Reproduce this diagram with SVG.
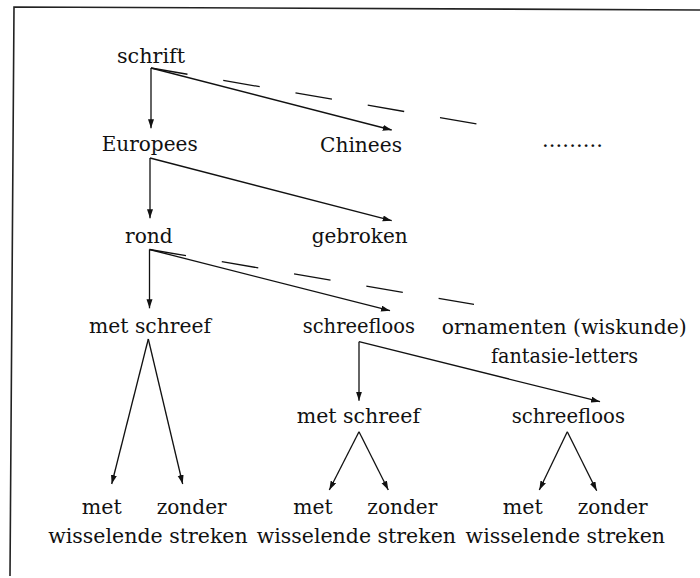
<svg xmlns="http://www.w3.org/2000/svg" width="700" height="578" viewBox="0 0 700 578">
<style>
.t text{font-family:"DejaVu Serif","Liberation Serif",serif;font-size:21px;fill:#111}
.c{fill:none;stroke:#111;stroke-width:1.3}
.d{fill:none;stroke:#111;stroke-width:1.3;stroke-dasharray:37 36.3}
.f{fill:none;stroke:#222;stroke-width:1.6}
</style>
<defs>
<marker id="ah" markerUnits="userSpaceOnUse" markerWidth="10" markerHeight="7" refX="9" refY="3" orient="auto">
<path d="M0,0 L9,3 L0,6 Z" fill="#111"/>
</marker>
</defs>
<rect width="700" height="578" fill="#fff"/>
<path class="f" d="M10,576 L14,7 L700,10"/>
<g id="connectors">
<path class="c" d="M151,68 V128.3" marker-end="url(#ah)"/>
<path class="c" d="M151,68 L391.7,130" marker-end="url(#ah)"/>
<path class="d" d="M151,68 L477,124"/>
<path class="c" d="M150,158 V218.3" marker-end="url(#ah)"/>
<path class="c" d="M150,158 L391.7,220.7" marker-end="url(#ah)"/>
<path class="c" d="M149.5,249.5 V308.3" marker-end="url(#ah)"/>
<path class="c" d="M149.5,249.5 L390,310.7" marker-end="url(#ah)"/>
<path class="d" d="M149.5,249.5 L474,304.3"/>
<path class="c" d="M148.3,339 L111.7,484" marker-end="url(#ah)"/>
<path class="c" d="M148.3,339 L182.7,484" marker-end="url(#ah)"/>
<path class="c" d="M359,341.7 V400.7" marker-end="url(#ah)"/>
<path class="c" d="M359,341.7 L600,401.7" marker-end="url(#ah)"/>
<path class="c" d="M359,431.7 L329.3,490" marker-end="url(#ah)"/>
<path class="c" d="M359,431.7 L388.3,490" marker-end="url(#ah)"/>
<path class="c" d="M567.3,431.7 L539.3,490" marker-end="url(#ah)"/>
<path class="c" d="M567.3,431.7 L596.7,490.7" marker-end="url(#ah)"/>
</g>
<g class="t">
<g id="n-schrift"><text x="117" y="63" textLength="68" lengthAdjust="spacingAndGlyphs">schrift</text></g>
<g id="n-europees"><text x="101.7" y="151" textLength="96" lengthAdjust="spacingAndGlyphs">Europees</text></g>
<g id="n-chinees"><text x="320" y="152" textLength="82" lengthAdjust="spacingAndGlyphs">Chinees</text></g>
<g id="n-dots"><text x="542" y="147" textLength="61" lengthAdjust="spacing">.........</text></g>
<g id="n-rond"><text x="125" y="242.7" textLength="47.7" lengthAdjust="spacingAndGlyphs">rond</text></g>
<g id="n-gebroken"><text x="311.7" y="242.7" textLength="96" lengthAdjust="spacingAndGlyphs">gebroken</text></g>
<g id="n-metschreef1"><text x="89" y="333.3" textLength="122" lengthAdjust="spacingAndGlyphs">met schreef</text></g>
<g id="n-schreefloos1"><text x="302.7" y="333.3" textLength="112.3" lengthAdjust="spacingAndGlyphs">schreefloos</text></g>
<g id="n-ornamenten">
<text x="441.7" y="334" textLength="245" lengthAdjust="spacingAndGlyphs">ornamenten (wiskunde)</text>
<text x="491" y="363.3" textLength="147" lengthAdjust="spacingAndGlyphs">fantasie-letters</text>
</g>
<g id="n-metschreef2"><text x="296.7" y="423.3" textLength="123.3" lengthAdjust="spacingAndGlyphs">met schreef</text></g>
<g id="n-schreefloos2"><text x="511.7" y="423.3" textLength="113.3" lengthAdjust="spacingAndGlyphs">schreefloos</text></g>
<g id="n-leaf1">
<text x="81.7" y="513.5" textLength="40" lengthAdjust="spacingAndGlyphs">met</text>
<text x="156.7" y="513.5" textLength="70" lengthAdjust="spacingAndGlyphs">zonder</text>
<text x="48.2" y="543" textLength="199.5" lengthAdjust="spacingAndGlyphs">wisselende streken</text>
</g>
<g id="n-leaf2">
<text x="293.3" y="514" textLength="39.4" lengthAdjust="spacingAndGlyphs">met</text>
<text x="367.3" y="514" textLength="70" lengthAdjust="spacingAndGlyphs">zonder</text>
<text x="256.7" y="543" textLength="199.3" lengthAdjust="spacingAndGlyphs">wisselende streken</text>
</g>
<g id="n-leaf3">
<text x="502.7" y="514" textLength="40" lengthAdjust="spacingAndGlyphs">met</text>
<text x="577.7" y="514" textLength="70" lengthAdjust="spacingAndGlyphs">zonder</text>
<text x="465.6" y="543" textLength="199.4" lengthAdjust="spacingAndGlyphs">wisselende streken</text>
</g>
</g>
</svg>
